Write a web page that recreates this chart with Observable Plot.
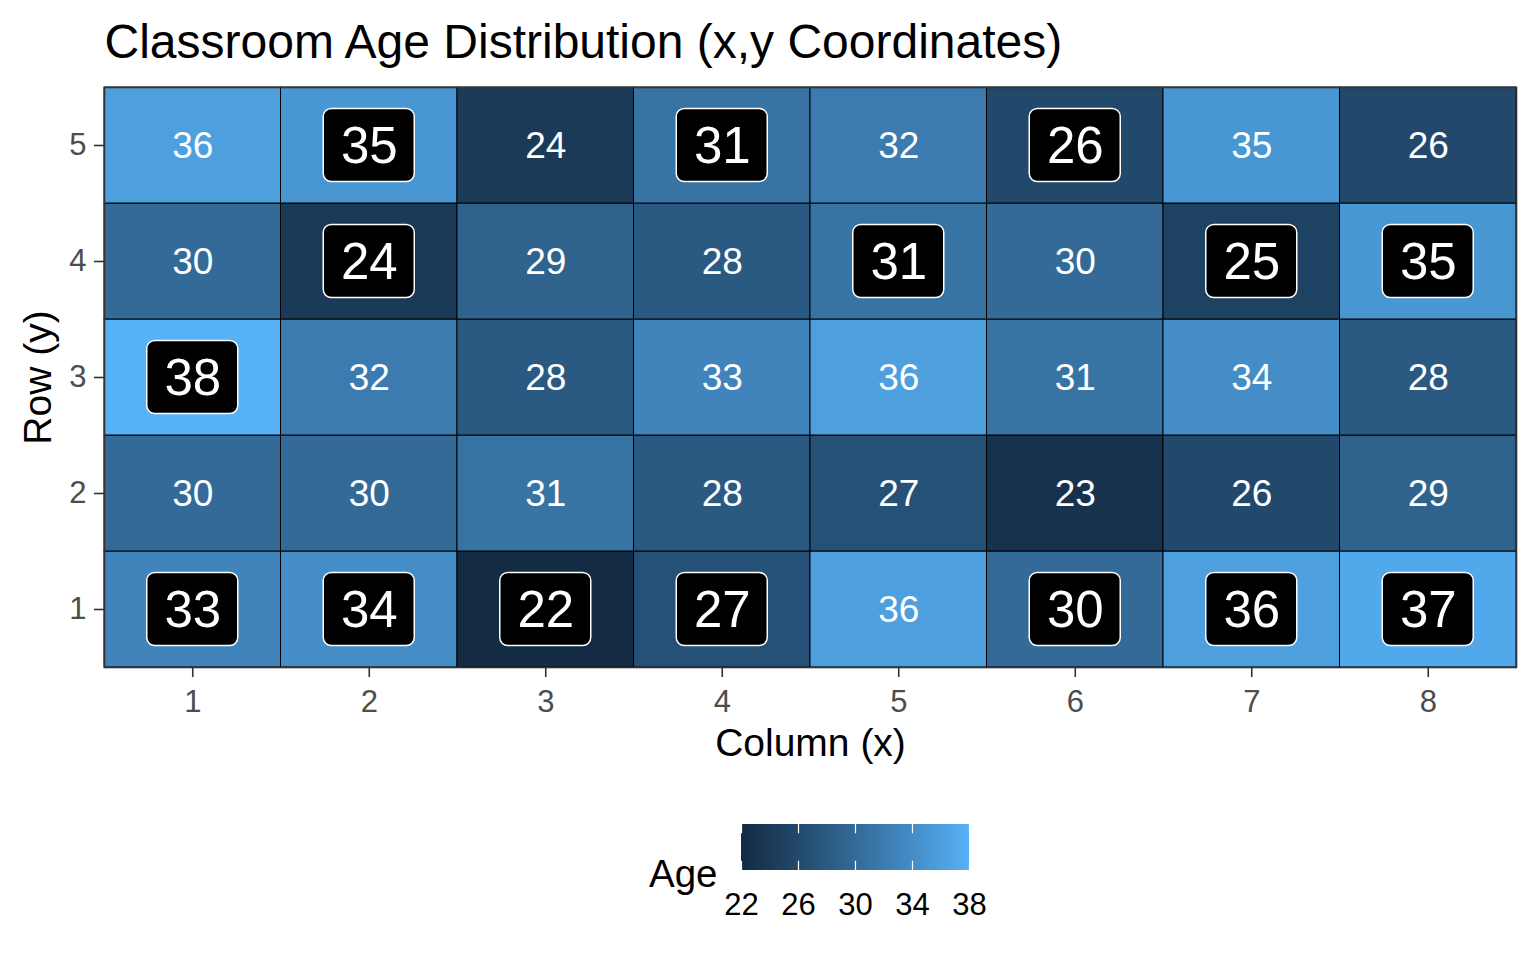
<!DOCTYPE html>
<html>
<head>
<meta charset="utf-8">
<script src="https://cdn.jsdelivr.net/npm/d3@7"></script>
<script src="https://cdn.jsdelivr.net/npm/@observablehq/plot@0.6"></script>
<style>
  html, body { margin: 0; padding: 0; background: white; }
  #wrap { position: relative; width: 1536px; height: 960px; font-family: "Liberation Sans", Arial, sans-serif; }
  #chart { position: absolute; left: 0; top: 0; }
  #legend { position: absolute; left: 711px; top: 814px; }
  #legendTitle { position: absolute; left: 649px; top: 855px; font-size: 38.5px; line-height: 38px; color: black; }
  .agebar-ramp .tick line { stroke: white; stroke-width: 1.2; stroke-dasharray: 9.2 27.6 9.2 200; }
  .agebar-ramp .tick text { fill: black; }
</style>
</head>
<body>
<div id="wrap">
  <div id="chart"></div>
  <div id="legendTitle">Age</div>
  <div id="legend"></div>
</div>
<script>
// ---- Data ----
const columns = [1, 2, 3, 4, 5, 6, 7, 8];
const rows = [1, 2, 3, 4, 5];
const agesRow1 = [33, 34, 22, 27, 36, 30, 36, 37];
const agesRow2 = [30, 30, 31, 28, 27, 23, 26, 29];
const agesRow3 = [38, 32, 28, 33, 36, 31, 34, 28];
const agesRow4 = [30, 24, 29, 28, 31, 30, 25, 35];
const agesRow5 = [36, 35, 24, 31, 32, 26, 35, 26];
const highlightRow1 = [1, 1, 1, 1, 0, 1, 1, 1];
const highlightRow2 = [0, 0, 0, 0, 0, 0, 0, 0];
const highlightRow3 = [1, 0, 0, 0, 0, 0, 0, 0];
const highlightRow4 = [0, 1, 0, 0, 1, 0, 1, 1];
const highlightRow5 = [0, 1, 0, 1, 0, 1, 0, 0];
const legendTicks = [22, 26, 30, 34, 38];
const titleText = "Classroom Age Distribution (x,y Coordinates)";
const xTitle = "Column (x)";
const yTitle = "Row (y)";
const legendTitle = "Age";

const LOW = "#132B43", HIGH = "#56B1F7";
const FONT = "'Liberation Sans', Arial, sans-serif";

const ageRows = [agesRow1, agesRow2, agesRow3, agesRow4, agesRow5];
const hlRows = [highlightRow1, highlightRow2, highlightRow3, highlightRow4, highlightRow5];
const data = [];
rows.forEach((r, i) => columns.forEach((c, j) => {
  data.push({x: c, y: r, age: ageRows[i][j], hl: hlRows[i][j] === 1});
}));
const normal = data.filter(d => !d.hl);
const highlighted = data.filter(d => d.hl);

const colorScale = {type: "linear", domain: [22, 38], range: [LOW, HIGH], interpolate: "lab"};

const chart = Plot.plot({
  width: 1536,
  height: 960,
  marginTop: 87,
  marginLeft: 104,
  marginRight: 20,
  marginBottom: 293,
  style: {fontFamily: FONT, background: "white", overflow: "visible"},
  x: {type: "band", domain: columns, padding: 0, round: false, label: null},
  y: {type: "band", domain: rows.slice().reverse(), padding: 0, round: false, label: null},
  color: colorScale,
  marks: [
    Plot.cell(data, {x: "x", y: "y", fill: "age", stroke: "black", strokeWidth: 1}),
    Plot.cell(highlighted, {
      x: "x", y: "y", fill: "black", stroke: "white", strokeWidth: 1.5, rx: 8,
      insetLeft: 42.75, insetRight: 42.75, insetTop: 21.5, insetBottom: 21.5
    }),
    Plot.text(normal, {x: "x", y: "y", text: d => String(d.age), fill: "white", fontSize: 37, dy: 1}),
    Plot.text(highlighted, {x: "x", y: "y", text: d => String(d.age), fill: "white", fontSize: 51, dy: 1}),
    Plot.frame({stroke: "#333333", strokeWidth: 1.6}),
    Plot.axisX({tickSize: 10, tickPadding: 12, fontSize: 31, fill: "#4D4D4D", stroke: "#333333", strokeWidth: 1.6, label: null}),
    Plot.axisY({tickSize: 10, tickPadding: 8, fontSize: 31, fill: "#4D4D4D", stroke: "#333333", strokeWidth: 1.6, label: null}),
    Plot.text([titleText], {text: d => d, frameAnchor: "top-left", textAnchor: "start", lineAnchor: "bottom", dy: -30, fontSize: 48, fill: "black"}),
    Plot.text([xTitle], {text: d => d, frameAnchor: "bottom", textAnchor: "middle", lineAnchor: "bottom", dy: 88, fontSize: 39, fill: "black"}),
    Plot.text([yTitle], {text: d => d, frameAnchor: "left", textAnchor: "middle", lineAnchor: "bottom", rotate: -90, dx: -54, fontSize: 39, fill: "black"})
  ]
});
document.getElementById("chart").appendChild(chart);

const legend = Plot.legend({
  color: colorScale,
  width: 288,
  height: 106,
  marginLeft: 30,
  marginRight: 30,
  marginTop: 10,
  marginBottom: 50,
  tickSize: 20,
  ticks: legendTicks,
  label: null,
  className: "agebar",
  style: {fontSize: "31px", fontFamily: FONT, color: "black", background: "transparent", overflow: "visible"}
});
document.getElementById("legend").appendChild(legend);
document.getElementById("legendTitle").textContent = legendTitle;
</script>
</body>
</html>
